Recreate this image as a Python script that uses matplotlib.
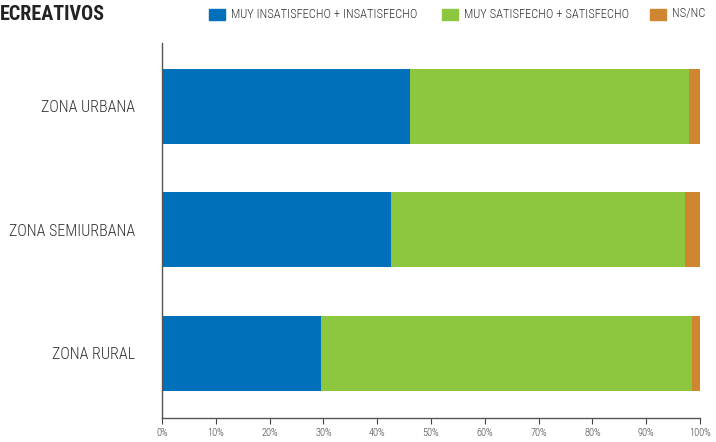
import numpy as np
import matplotlib.pyplot as plt
from matplotlib import patches

# Datos
zonas = ["ZONA RURAL", "ZONA SEMIURBANA", "ZONA URBANA"]
insatisfecho = [29.6, 42.6, 46.1]
satisfecho = [68.9, 54.6, 51.9]
nsnc = [1.5, 2.8, 2.0]
series = ["MUY INSATISFECHO + INSATISFECHO", "MUY SATISFECHO + SATISFECHO", "NS/NC"]
ticks = [0, 10, 20, 30, 40, 50, 60, 70, 80, 90, 100]

colores = ["#0070BA", "#8DC63F", "#D08530"]
plt.rcParams['font.family'] = ["Roboto Condensed", "DejaVu Sans"]

fig = plt.figure(figsize=(7.16, 4.42), dpi=100)
ax = fig.add_axes([162/716, 1-418/442, 538/716, 375/442])

y = np.arange(len(zonas))
izq = np.zeros(len(zonas))
for vals, c in zip([insatisfecho, satisfecho, nsnc], colores):
    ax.barh(y, vals, left=izq, height=0.607, color=c, linewidth=0)
    izq += np.array(vals)

ax.set_xlim(0, 100)
ax.set_ylim(-0.523, 2.513)
ax.set_yticks(y)
ax.set_yticklabels(zonas, fontsize=11.5, color="#333333", fontweight="light")
ax.tick_params(axis='y', length=0, pad=19.5)
ax.set_xticks(ticks)
ax.set_xticklabels([f"{t}%" for t in ticks], fontsize=7.5, color="#444444",
                   fontweight="light")
ax.tick_params(axis='x', length=4, width=0.8, color="#444444", pad=3)

for s in ["top", "right"]:
    ax.spines[s].set_visible(False)
for s in ["left", "bottom"]:
    ax.spines[s].set_color("#555555")
    ax.spines[s].set_linewidth(1)

# Titulo (recortado)
fig.text(0, 1-14/442, "ECREATIVOS", fontsize=14.5, fontweight="bold",
         color="#222222", va="center", ha="left")

# Leyenda manual
leg_x = [209, 442, 650]
for xs, lab, c in zip(leg_x, series, colores):
    fig.patches.append(patches.Rectangle((xs/716, 1-20/442), 16/716, 11/442,
                                         transform=fig.transFigure, color=c))
    fig.text((xs+22)/716, 1-14/442, lab, fontsize=9, color="#333333",
             va="center", ha="left", fontweight="light")

plt.savefig("out.png", dpi=100)
